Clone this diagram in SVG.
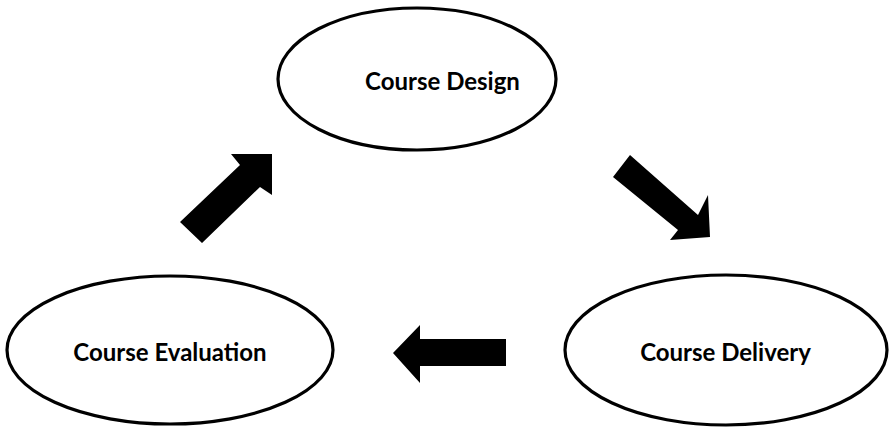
<svg xmlns="http://www.w3.org/2000/svg" width="889" height="427" viewBox="0 0 889 427">
<style>
.node ellipse{fill:#fff;stroke:#000;stroke-width:3.2}
.node text{font-family:Lato,"Open Sans","Liberation Sans",sans-serif;font-weight:bold;font-size:24px;fill:#000;text-anchor:middle}
.arrow{fill:#000;stroke:none}
</style>
<rect width="889" height="427" fill="#fff"/>
<g id="course-design" class="node">
<ellipse cx="417" cy="79" rx="139" ry="71"/>
<text x="442.5" y="90">Course Design</text>
</g>
<g id="course-evaluation" class="node">
<ellipse cx="170" cy="350" rx="163" ry="74"/>
<text x="170" y="361">Course Evaluation</text>
</g>
<g id="course-delivery" class="node">
<ellipse cx="726" cy="350" rx="161" ry="75"/>
<text x="725.5" y="361">Course Delivery</text>
</g>
<g id="connectors">
<polygon class="arrow" points="180,222 240,165 231,154 272,154 272,195 260,187 202,243"/>
<polygon class="arrow" points="613,177 630,155 698,215 708,195 710,237 670,240 678,230"/>
<polygon class="arrow" points="393,353 420,325 420,339 506,339 506,366 420,366 420,383"/>
</g>
</svg>
